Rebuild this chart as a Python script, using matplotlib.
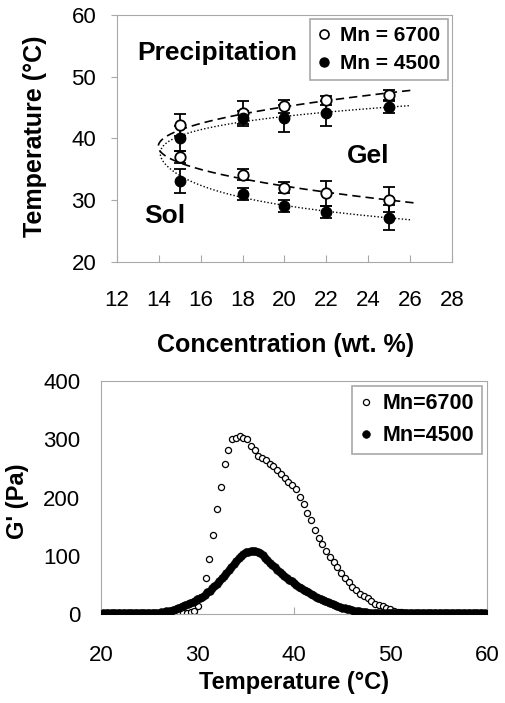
import numpy as np
import matplotlib
matplotlib.use("Agg")
import matplotlib.pyplot as plt

plt.rcParams['font.family'] = ['Liberation Sans', 'DejaVu Sans']

# ---- top panel: phase diagram ----
conc = [15, 18, 20, 22, 25]

t_up_6700 = [42.2, 44.2, 45.2, 46.2, 47.1]
e_up_6700 = [1.8, 1.8, 1.0, 0.7, 0.8]
t_lo_6700 = [37.0, 34.1, 32.0, 31.1, 30.1]
e_lo_6700 = [1.0, 0.9, 0.9, 2.0, 2.0]

t_up_4500 = [40.0, 43.3, 43.3, 44.1, 45.1]
e_up_4500 = [2.0, 1.2, 2.2, 2.0, 1.0]
t_lo_4500 = [33.1, 31.0, 29.1, 28.1, 27.2]
e_lo_4500 = [2.0, 1.0, 1.0, 1.0, 2.0]

# ---- bottom panel: G' vs temperature ----
g_6700 = [1, 1, 1, 1, 1, 1, 1, 1, 1, 1, 1, 1, 1, 1, 1, 1, 1, 1, 1, 1, 1,
          1, 1, 3, 6, 13, 30,
          61, 94, 135, 180, 218, 257, 282, 301, 303, 306, 302, 300, 289, 281,
          271, 267, 264, 258, 254, 248, 241, 233, 226, 222, 214, 201, 189, 174,
          161, 145, 131, 121, 108, 98, 89, 81, 71, 61, 55, 46, 41, 35, 31, 27,
          23, 18, 15, 13, 11, 9, 6,
          4, 3, 2,
          1, 1, 1, 1, 1, 1, 1, 1, 1, 1, 1, 1, 1, 1, 1, 1,
          2, 2, 2, 2, 2]
temp_6700 = np.linspace(20.32, 59.71, len(g_6700))

g_4500 = [1, 1, 1, 1, 1, 1, 1, 1, 1, 1, 1, 1, 1, 1, 1, 1, 1, 1, 1, 1, 1, 1,
          1.5, 2, 3, 3.5, 4.5, 5, 6, 7, 8.5, 10, 11.5, 13, 15, 17, 19, 21, 23, 25,
          27.5, 30, 33, 37, 40, 44, 48, 52, 56, 61, 66, 71, 76, 81, 86, 91, 96,
          100, 103, 106, 107, 108, 108, 108, 107, 105, 101, 97, 92, 88, 84, 80,
          76, 72, 68, 65, 62, 59, 56, 53, 50, 47, 44.5, 42, 39.5, 37, 34.5, 32,
          30, 28, 26, 24, 22, 20, 18.5, 17, 15.5, 14, 12.5, 11, 10, 9, 8, 7, 6,
          5, 4.5, 4, 3.5, 3, 2.5, 2,
          1.5, 1.5, 1.5, 1.5, 1.5, 1.5, 1.5, 1.5, 1.5, 1.5, 1.5, 1.5, 1.5, 1.5,
          1.5, 1.5, 1.5, 1.5, 1.5, 1.5, 1.5, 1.5, 1.5, 1.5, 1.5, 1.5, 1.5, 1.5,
          1.5, 1.5, 1.5, 1.5, 1.5, 1.5, 1.5, 1.5, 1.5, 1.5, 1.5,
          2.5, 2.5, 2.5, 2.5, 2.5, 2.5, 2.5, 2.5]
temp_4500 = np.linspace(20.25, 59.75, len(g_4500))

frame_col = '#a8a8a8'

fig = plt.figure(figsize=(5.06, 7.03), dpi=100)

# ================= top =================
ax1 = fig.add_axes([0.2312, 0.6273, 0.662, 0.3514])

def fit_curve(up, lo, cmax, deg):
    tt = np.array(up + lo)
    cc = np.array(conc + conc)
    p = np.polyfit(tt, cc, deg)
    t = np.linspace(min(lo) - 6, max(up) + 6, 2000)
    c = np.polyval(p, t)
    keep = c <= cmax
    return c[keep], t[keep]

c6, tf6 = fit_curve(t_up_6700, t_lo_6700, 26.2, 2)
c4, tf4 = fit_curve(t_up_4500, t_lo_4500, 26.0, 4)
ax1.plot(c6, tf6, color='black', lw=1.2, ls=(0, (5, 3)), zorder=2)
ax1.plot(c4, tf4, color='black', lw=1.0, ls=(0, (1, 1.5)), zorder=2)

ekw = dict(ecolor='black', elinewidth=1.3, capsize=4, capthick=1.3, ls='none', zorder=3)
ax1.errorbar(conc, t_up_6700, yerr=e_up_6700, fmt='o', ms=7.5, mfc='white',
             mec='black', mew=1.3, **ekw)
ax1.errorbar(conc, t_lo_6700, yerr=e_lo_6700, fmt='o', ms=7.5, mfc='white',
             mec='black', mew=1.3, **ekw)
ax1.errorbar(conc, t_up_4500, yerr=e_up_4500, fmt='o', ms=7.5, mfc='black',
             mec='black', **ekw)
ax1.errorbar(conc, t_lo_4500, yerr=e_lo_4500, fmt='o', ms=7.5, mfc='black',
             mec='black', **ekw)

ax1.set_xlim(12, 28)
ax1.set_ylim(20, 60)
ax1.set_xticks(range(12, 29, 2))
ax1.set_yticks(range(20, 61, 10))
for s in ax1.spines.values():
    s.set_color(frame_col)
ax1.tick_params(axis='x', direction='in', length=5, color=frame_col, pad=20, labelsize=16)
ax1.tick_params(axis='y', direction='out', length=4, color=frame_col, pad=11, labelsize=16)

ax1.text(16.8, 52.7, 'Precipitation', fontsize=19, fontweight='bold', ha='center', va='baseline')
ax1.text(24.0, 36.0, 'Gel', fontsize=19, fontweight='bold', ha='center', va='baseline')
ax1.text(14.3, 26.3, 'Sol', fontsize=19, fontweight='bold', ha='center', va='baseline')

ax1.set_xlabel('Concentration (wt. %)', fontsize=18, fontweight='bold')
ax1.xaxis.set_label_coords(0.504, -0.287)
ax1.set_ylabel('Temperature (°C)', fontsize=18, fontweight='bold')
ax1.yaxis.set_label_coords(-0.209, 0.508)

h1 = ax1.plot([], [], 'o', ms=6.5, mfc='white', mec='black', mew=1.2)[0]
h2 = ax1.plot([], [], 'o', ms=6.5, mfc='black', mec='black')[0]
leg1 = ax1.legend([h1, h2], ['Mn = 6700', 'Mn = 4500'], loc='upper right',
                  bbox_to_anchor=(0.988, 0.984), borderaxespad=0, fancybox=False,
                  edgecolor=frame_col, framealpha=1, handlelength=0.6,
                  handletextpad=0.5, labelspacing=0.42, borderpad=0.35,
                  prop={'weight': 'bold', 'size': 15})
leg1.get_frame().set_linewidth(1.2)

# ================= bottom =================
ax2 = fig.add_axes([0.1996, 0.1266, 0.7628, 0.3314])
ax2.plot(temp_6700, g_6700, 'o', ms=4.4, mfc='white', mec='black', mew=0.9,
         ls='none', zorder=2, label='Mn=6700')
ax2.plot(temp_4500, g_4500, 'o', ms=5.5, mfc='black', mec='black', mew=0.5,
         ls='none', zorder=3, label='Mn=4500')
ax2.set_xlim(20, 60)
ax2.set_ylim(0, 400)
ax2.set_xticks(range(20, 61, 10))
ax2.set_yticks(range(0, 401, 100))
for s in ax2.spines.values():
    s.set_color(frame_col)
ax2.tick_params(axis='x', direction='in', length=5, color=frame_col, pad=22, labelsize=16)
ax2.tick_params(axis='y', direction='out', length=0, color=frame_col, pad=15, labelsize=16)

ax2.set_xlabel('Temperature (°C)', fontsize=17, fontweight='bold')
ax2.xaxis.set_label_coords(0.5, -0.245)
ax2.set_ylabel("G' (Pa)", fontsize=17, fontweight='bold')
ax2.yaxis.set_label_coords(-0.187, 0.485)

leg2 = ax2.legend(loc='upper right', bbox_to_anchor=(0.987, 0.979), borderaxespad=0,
                  fancybox=False, edgecolor=frame_col, framealpha=1, handlelength=0.6,
                  handletextpad=0.5, labelspacing=0.5, borderpad=0.35, markerscale=1.0,
                  prop={'weight': 'bold', 'size': 15.5})
leg2.get_frame().set_linewidth(1.2)

fig.savefig('out.png', dpi=100)
